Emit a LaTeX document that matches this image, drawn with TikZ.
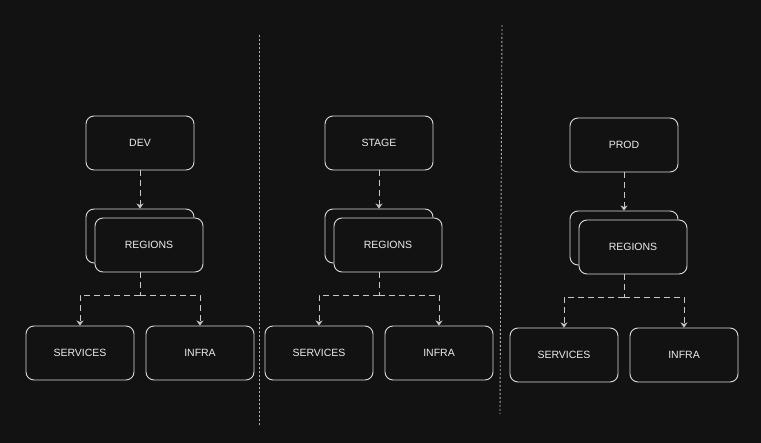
\documentclass[tikz,border=0pt]{standalone}
\usepackage{fontspec}
\setmainfont{Liberation Sans}
\usetikzlibrary{arrows.meta}
\definecolor{bgc}{HTML}{121212}
\definecolor{linec}{HTML}{DADADA}
\definecolor{txtc}{HTML}{EDEDED}
\definecolor{connc}{HTML}{C8C8C8}
\tikzset{
  box/.style={draw=linec, line width=0.9pt, rounded corners=8pt, fill=bgc,
    minimum width=108pt, minimum height=54pt, inner sep=0pt,
    text=txtc, font=\fontsize{10.5}{12}\selectfont},
  conn/.style={draw=connc, line width=0.9pt, dash pattern=on 6pt off 4pt,
    -{Stealth[length=5pt,width=7pt,inset=1.5pt]}},
  connplain/.style={draw=connc, line width=0.9pt, dash pattern=on 6pt off 4pt},
  divider/.style={draw=linec!80!black, line width=0.9pt, dash pattern=on 2pt off 2pt}
}
\newcommand{\envcolumn}[4]{%
  % #1 prefix, #2 label, #3 x offset, #4 y offset
  \begin{scope}[shift={(#3,#4)}]
    \node[box] (#1top) at (140,143) {#2};
    \node[box] (#1regb) at (140,236) {};
    \node[box] (#1regf) at (149,245) {REGIONS};
    \node[box] (#1svc) at (80,353) {SERVICES};
    \node[box] (#1inf) at (200,353) {INFRA};
    \coordinate (#1j) at (140,295);
    \draw[conn] (#1top.south) -- (#1regb.north);
    \draw[connplain] (#1regf.south -| #1j) -- (#1j);
    \draw[conn] (#1j) -| (#1svc.north);
    \draw[conn] (#1j) -| (#1inf.north);
  \end{scope}}
\begin{document}
\begin{tikzpicture}[x=1pt,y=-1pt]
  \fill[bgc] (0,0) rectangle (761,443);
  \useasboundingbox (0,0) rectangle (761,443);
  \coordinate (d1a) at (259,35);
  \coordinate (d1b) at (259,425);
  \coordinate (d2a) at (502,25);
  \coordinate (d2b) at (500,414);
  \draw[divider] (d1a) -- (d1b);
  \draw[divider] (d2a) -- (d2b);
  \envcolumn{a}{DEV}{0}{0}
  \envcolumn{b}{STAGE}{239}{0}
  \envcolumn{c}{PROD}{484}{2}
\end{tikzpicture}
\end{document}
